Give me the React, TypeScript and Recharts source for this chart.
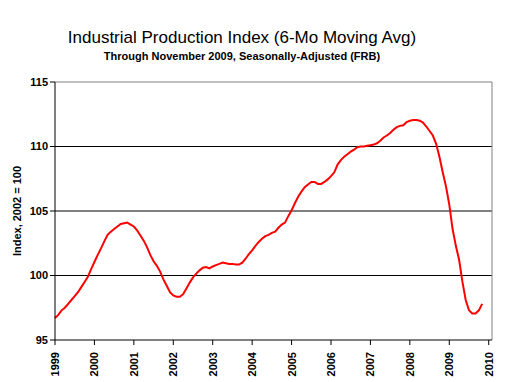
import React from 'react';
import { LineChart, Line, XAxis, YAxis, ReferenceLine } from 'recharts';

// monthly index values, Jan 1999 .. Nov 2009 (6-month moving average)
const y1999 = [96.7, 96.95, 97.3, 97.5, 97.8, 98.1, 98.4, 98.7, 99.1, 99.5, 99.9, 100.5];
const y2000 = [101.05, 101.6, 102.1, 102.65, 103.15, 103.4, 103.6, 103.8, 104.0, 104.05, 104.1, 103.95];
const y2001 = [103.8, 103.5, 103.1, 102.7, 102.2, 101.6, 101.1, 100.75, 100.3, 99.7, 99.2, 98.7];
const y2002 = [98.45, 98.35, 98.35, 98.55, 99.0, 99.45, 99.85, 100.15, 100.4, 100.6, 100.65, 100.55];
const y2003 = [100.7, 100.8, 100.9, 101.0, 100.95, 100.9, 100.9, 100.85, 100.85, 101.0, 101.3, 101.65];
const y2004 = [101.95, 102.3, 102.6, 102.85, 103.05, 103.15, 103.3, 103.4, 103.7, 103.95, 104.1, 104.6];
const y2005 = [105.05, 105.6, 106.1, 106.5, 106.85, 107.05, 107.25, 107.25, 107.1, 107.1, 107.25, 107.45];
const y2006 = [107.7, 108.0, 108.6, 108.95, 109.2, 109.4, 109.6, 109.75, 109.95, 110.0, 110.0, 110.05];
const y2007 = [110.1, 110.15, 110.25, 110.45, 110.7, 110.85, 111.05, 111.3, 111.5, 111.6, 111.65, 111.9];
const y2008 = [112.0, 112.05, 112.05, 112.0, 111.85, 111.55, 111.2, 110.85, 110.2, 109.2, 108.0, 106.9];
const y2009 = [105.5, 103.6, 102.3, 101.2, 99.5, 98.1, 97.3, 97.05, 97.05, 97.3, 97.8];

const years = ['1999', '2000', '2001', '2002', '2003', '2004', '2005', '2006', '2007', '2008', '2009', '2010'];
const yTicks = [95, 100, 105, 110, 115];
const gridValues = [100, 105, 110];

const values = [...y1999, ...y2000, ...y2001, ...y2002, ...y2003, ...y2004, ...y2005, ...y2006, ...y2007, ...y2008, ...y2009];
const data = values.map((v, i) => ({ m: i, v }));
const xTicks = years.map((_, i) => i * 12);

const font = '"Liberation Sans", Arial, sans-serif';

const YearTick = (props: any) => {
  const { x, y, payload } = props;
  return (
    <g transform={`translate(${x},${y})`}>
      <text transform="rotate(-90)" x={-5} y={4} textAnchor="end" fontSize={11} fontWeight="bold" fill="#000" fontFamily={font}>
        {years[payload.value / 12]}
      </text>
    </g>
  );
};

export default function App() {
  return (
    <div style={{ position: 'absolute', left: 0, top: 0, width: 507, height: 382, background: '#fff', fontFamily: font }}>
      <div style={{ position: 'absolute', left: 0, width: 484, top: 28, textAlign: 'center', fontSize: 17 }}>
        Industrial Production Index (6-Mo Moving Avg)
      </div>
      <div style={{ position: 'absolute', left: 0, width: 484, top: 50, textAlign: 'center', fontSize: 11, fontWeight: 'bold' }}>
        Through November 2009, Seasonally-Adjusted (FRB)
      </div>
      <div style={{ position: 'absolute', left: 17, top: 211, transform: 'translate(-50%,-50%) rotate(-90deg)', whiteSpace: 'nowrap', fontSize: 11, fontWeight: 'bold' }}>
        Index, 2002 = 100
      </div>
      <LineChart width={507} height={382} data={data} margin={{ top: 82, right: 15, bottom: 0, left: 0 }}>
        <XAxis
          dataKey="m"
          type="number"
          domain={[0, 133]}
          ticks={xTicks}
          interval={0}
          axisLine={{ stroke: '#000' }}
          tickLine={{ stroke: '#000' }}
          tickSize={5}
          tick={<YearTick />}
          height={42}
        />
        <YAxis
          domain={[95, 115]}
          ticks={yTicks}
          interval={0}
          width={55}
          axisLine={{ stroke: '#000' }}
          tickLine={{ stroke: '#000' }}
          tickSize={5}
          tick={{ fill: '#000', fontSize: 11, fontWeight: 'bold', fontFamily: font }}
        />
        {gridValues.map(g => (
          <ReferenceLine key={g} y={g} stroke="#000" strokeWidth={1} />
        ))}
        <ReferenceLine y={115} stroke="#808080" strokeWidth={1} />
        <ReferenceLine x={133} stroke="#808080" strokeWidth={1} />
        <Line type="linear" dataKey="v" stroke="#ff0000" strokeWidth={2} dot={false} isAnimationActive={false} />
      </LineChart>
    </div>
  );
}
